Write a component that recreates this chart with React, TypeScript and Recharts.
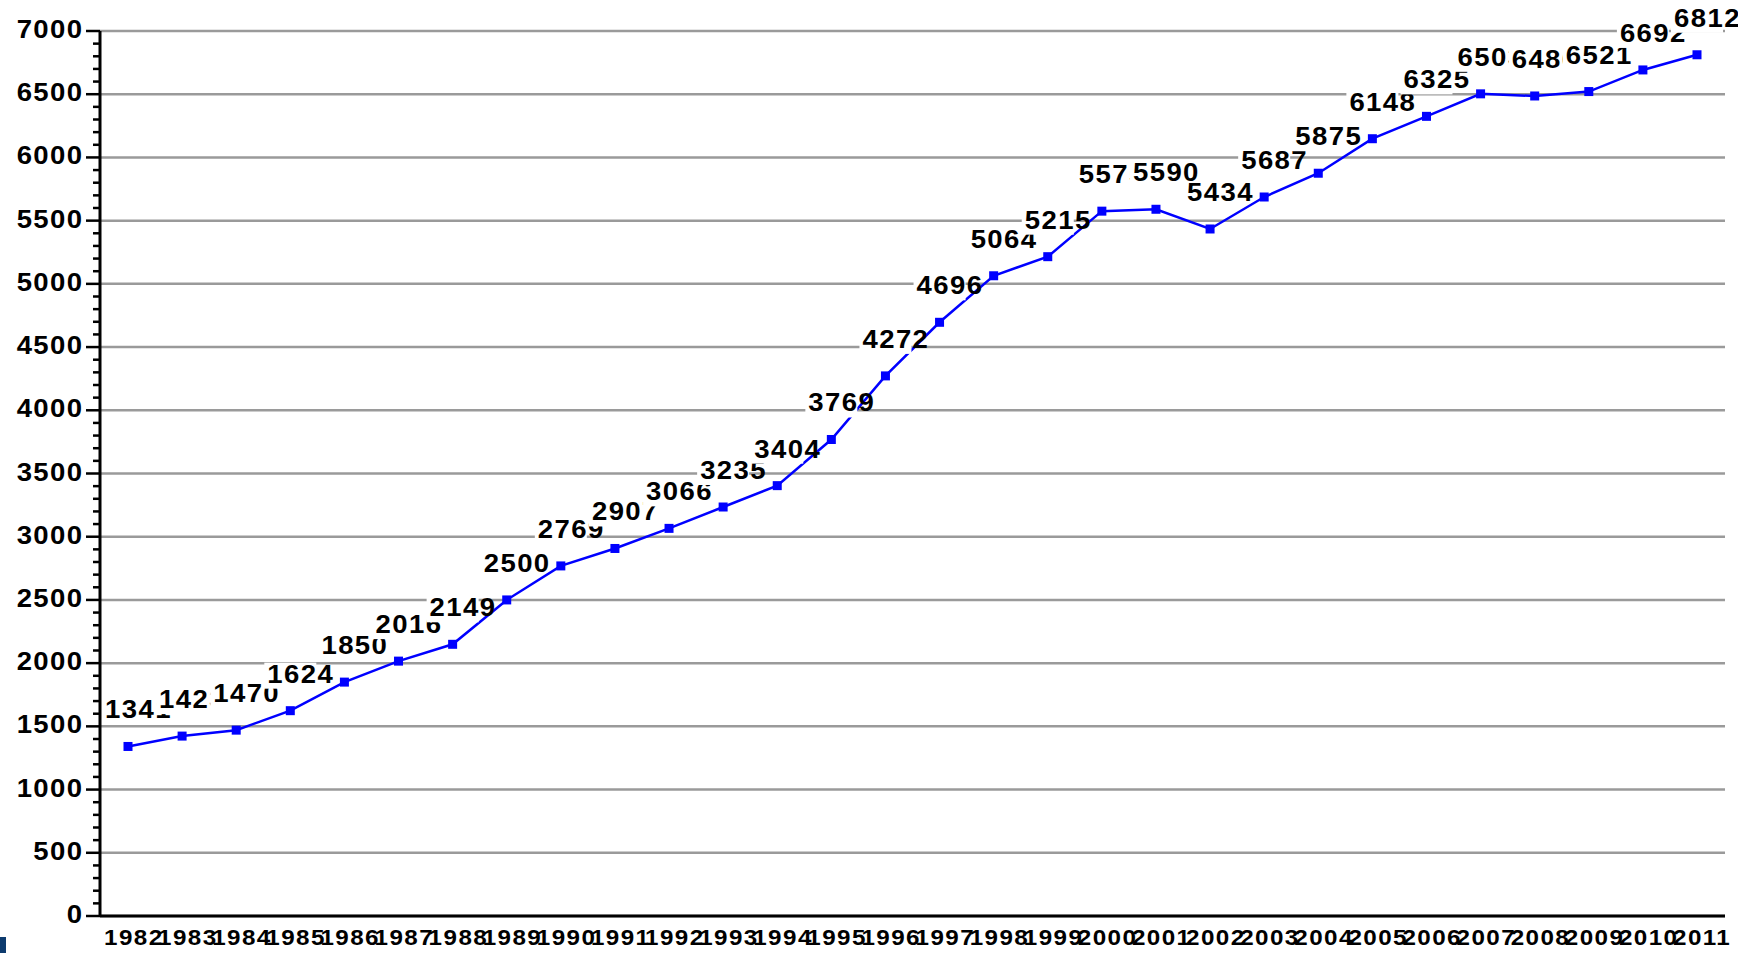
import { LineChart, Line, XAxis, YAxis, CartesianGrid, LabelList } from 'recharts';

const years = [
  '1982', '1983', '1984', '1985', '1986', '1987', '1988', '1989', '1990', '1991',
  '1992', '1993', '1994', '1995', '1996', '1997', '1998', '1999', '2000', '2001',
  '2002', '2003', '2004', '2005', '2006', '2007', '2008', '2009', '2010', '2011',
];

const values = [
  1341, 1423, 1470, 1624, 1850, 2016, 2149, 2500, 2769, 2907,
  3066, 3235, 3404, 3769, 4272, 4696, 5064, 5215, 5575, 5590,
  5434, 5687, 5875, 6148, 6325, 6503, 6486, 6521, 6692, 6812,
];

const majorTicks = [0, 500, 1000, 1500, 2000, 2500, 3000, 3500, 4000, 4500, 5000, 5500, 6000, 6500, 7000];

// minor ticks every 100 between the labelled ones
const allTicks: number[] = [];
majorTicks.forEach((t, i) => {
  allTicks.push(t);
  if (i < majorTicks.length - 1) {
    for (let k = 1; k < 5; k++) allTicks.push(t + k * 100);
  }
});

const data = years.map((year, i) => ({ year, value: values[i] }));

const FONT = '"Liberation Sans", Arial, sans-serif';
const BLUE = '#0000ff';
const STRETCH = 1.1; // the source text is a bit stretched sideways
const SPACING = 1.3;

const YTick = (props: any) => {
  const { x, y, payload } = props;
  const major = majorTicks.includes(payload.value);
  return (
    <g>
      <line x1={x - (major ? 14 : 7)} x2={x} y1={y} y2={y} stroke="#000" strokeWidth={2.5} />
      {major && (
        <text
          transform={`translate(${x - 16.5},${y + 7}) scale(${STRETCH},1)`}
          textAnchor="end"
          fontFamily={FONT}
          fontWeight="bold"
          fontSize={25}
          letterSpacing={SPACING}
          fill="#000"
        >
          {payload.value}
        </text>
      )}
    </g>
  );
};

const XTick = (props: any) => {
  const { x, y, payload } = props;
  return (
    <text
      transform={`translate(${x - 24},${y + 28.5}) scale(${STRETCH},1)`}
      textAnchor="start"
      fontFamily={FONT}
      fontWeight="bold"
      fontSize={22}
      letterSpacing={SPACING}
      fill="#000"
    >
      {payload.value}
    </text>
  );
};

const renderDot = (p: any) => (
  <rect key={`dot-${p.index}`} x={p.cx - 4.5} y={p.cy - 4.5} width={9} height={9} fill={BLUE} />
);

const renderValueLabel = (props: any) => {
  const { x, y, value, index } = props;
  return (
    <g key={`lbl-${index}`}>
      <rect x={x - 26} y={y - 48} width={52} height={26} fill="#fff" />
      <text
        transform={`translate(${x - 23},${y - 28}) scale(${STRETCH},1)`}
        fontFamily={FONT}
        fontWeight="bold"
        fontSize={25}
        letterSpacing={SPACING}
        fill="#000"
      >
        {value}
      </text>
    </g>
  );
};

export default function App() {
  return (
    <div style={{ position: 'absolute', left: 0, top: 0, width: 1738, height: 953, background: '#fff', overflow: 'hidden' }}>
      <LineChart width={1738} height={953} data={data} margin={{ top: 31, right: 13, bottom: 0, left: 0 }}>
        <CartesianGrid vertical={false} horizontalValues={majorTicks} stroke="#9a9a9a" strokeWidth={2.5} />
        <XAxis
          dataKey="year"
          scale="point"
          padding={{ left: 28, right: 28 }}
          interval={0}
          height={37}
          tickLine={false}
          tickSize={0}
          tickMargin={0}
          axisLine={{ stroke: '#000', strokeWidth: 3 }}
          tick={<XTick />}
        />
        <YAxis
          domain={[0, 7000]}
          ticks={allTicks}
          interval={0}
          width={100}
          tickLine={false}
          tickSize={0}
          tickMargin={0}
          axisLine={{ stroke: '#000', strokeWidth: 3 }}
          tick={<YTick />}
        />
        <YAxis
          yAxisId="right"
          orientation="right"
          domain={[0, 7000]}
          width={0}
          tick={false}
          tickLine={false}
          axisLine={{ stroke: '#000', strokeWidth: 2.5 }}
        />
        <Line
          type="linear"
          dataKey="value"
          stroke={BLUE}
          strokeWidth={2.5}
          dot={renderDot}
          activeDot={false}
          isAnimationActive={false}
        >
          <LabelList dataKey="value" content={renderValueLabel} />
        </Line>
      </LineChart>
      <div style={{ position: 'absolute', left: 0, top: 937, width: 6, height: 16, background: '#0d3b6e' }} />
    </div>
  );
}
